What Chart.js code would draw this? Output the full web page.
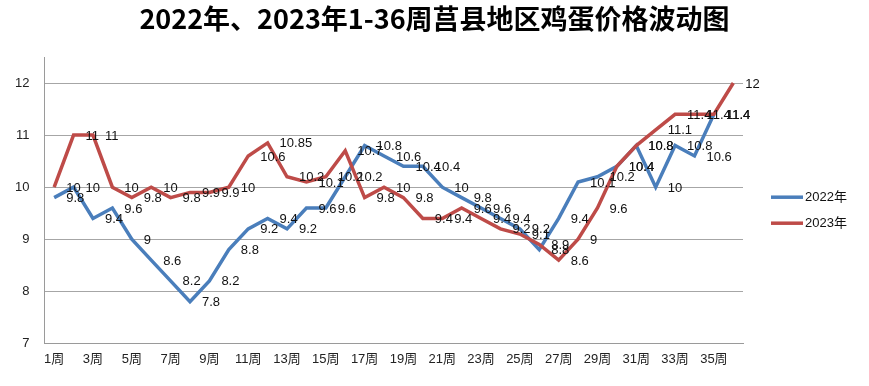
<!DOCTYPE html>
<html>
<head>
<meta charset="utf-8">
<script src="https://cdn.jsdelivr.net/npm/chart.js@4.4.0/dist/chart.umd.min.js"></script>
<style>
  html, body { margin: 0; padding: 0; background: #fff; }
  #wrap { width: 869px; height: 386px; }
</style>
</head>
<body>
<div id="wrap"><canvas id="eggChart"></canvas></div>
<script>
const weeks = Array.from({ length: 36 }, (_, i) => `${i + 1}周`);
const seriesNames = ["2022年", "2023年"];
const prices2022 = [9.8, 10, 9.4, 9.6, 9, 8.6, 8.2, 7.8, 8.2, 8.8, 9.2, 9.4, 9.2, 9.6, 9.6, 10.2, 10.8, 10.6,
  10.4, 10.4, 10, 9.8, 9.6, 9.4, 9.2, 8.8, 9.4, 10.1, 10.2, 10.4, 10.8, 10, 10.8, 10.6, 11.4, null];
const prices2023 = [10, 11, 11, 10, 9.8, 10, 9.8, 9.9, 9.9, 10, 10.6, 10.85, 10.2, 10.1, 10.2, 10.7, 9.8, 10,
  9.8, 9.4, 9.4, 9.6, 9.4, 9.2, 9.1, 8.9, 8.6, 9, 9.6, 10.4, 10.8, 11.1, 11.4, 11.4, 11.4, 12];
const yTicks = [7, 8, 9, 10, 11, 12];
const chartTitle = "2022年、2023年1-36周莒县地区鸡蛋价格波动图";

const colors = ["#4a7ebb", "#be4b48"];
const fontLatin = '"Liberation Sans", Arial, "Noto Sans CJK SC", sans-serif';

// value labels to the right of each point
const pointLabels = {
  id: "pointLabels",
  afterDatasetsDraw(chart) {
    const ctx = chart.ctx;
    ctx.save();
    ctx.font = "13px " + fontLatin;
    ctx.fillStyle = "#111";
    ctx.textBaseline = "middle";
    ctx.textAlign = "left";
    chart.data.datasets.forEach((ds, i) => {
      chart.getDatasetMeta(i).data.forEach((pt, j) => {
        const v = ds.data[j];
        if (v === null || v === undefined) return;
        ctx.fillText(String(v), pt.x + 12, pt.y + 1);
      });
    });
    ctx.restore();
  }
};

// title centred on the whole canvas + legend at the right like the excel one
const decorations = {
  id: "decorations",
  afterDraw(chart) {
    const ctx = chart.ctx;
    ctx.save();
    ctx.font = 'bold 27px "Noto Sans CJK SC", sans-serif';
    ctx.fillStyle = "#000";
    ctx.textAlign = "center";
    ctx.textBaseline = "middle";
    ctx.fillText(chartTitle, chart.width / 2, 19);

    const x = chart.chartArea.right + 28;
    const mid = (chart.chartArea.top + chart.chartArea.bottom) / 2 + 10;
    ctx.font = "13px " + fontLatin;
    ctx.textAlign = "left";
    chart.data.datasets.forEach((ds, i) => {
      const y = mid - 13 + i * 26;
      ctx.strokeStyle = ds.borderColor;
      ctx.lineWidth = 3.5;
      ctx.beginPath();
      ctx.moveTo(x, y);
      ctx.lineTo(x + 32, y);
      ctx.stroke();
      ctx.fillStyle = "#111";
      ctx.fillText(ds.label, x + 34, y);
    });
    ctx.restore();
  }
};

new Chart(document.getElementById("eggChart"), {
  type: "line",
  data: {
    labels: weeks,
    datasets: [
      { label: seriesNames[0], data: prices2022, borderColor: colors[0], backgroundColor: colors[0], borderWidth: 3.5, pointRadius: 0, tension: 0, order: 1 },
      { label: seriesNames[1], data: prices2023, borderColor: colors[1], backgroundColor: colors[1], borderWidth: 3.5, pointRadius: 0, tension: 0, order: 0 }
    ]
  },
  options: {
    responsive: true,
    maintainAspectRatio: false,
    animation: false,
    layout: { padding: { left: 0, right: 126, bottom: 11, top: 57 } },
    plugins: {
      legend: { display: false },
      tooltip: { enabled: false },
      title: { display: false }
    },
    scales: {
      x: {
        offset: true,
        grid: { display: false, drawTicks: false },
        border: { display: true, color: "#9a9a9a", width: 1 },
        ticks: {
          autoSkip: false,
          maxRotation: 0,
          padding: 8,
          color: "#222",
          font: { family: fontLatin, size: 13 },
          callback: function (val, idx) { return idx % 2 === 0 ? this.getLabelForValue(val) : ""; }
        }
      },
      y: {
        min: 7,
        max: 12.5,
        afterBuildTicks: (scale) => { scale.ticks = yTicks.map(v => ({ value: v })); },
        grid: { color: "#a6a6a6", drawTicks: false },
        border: { display: true, color: "#9a9a9a", width: 1 },
        ticks: {
          padding: 15,
          color: "#222",
          font: { family: fontLatin, size: 13 }
        }
      }
    }
  },
  plugins: [pointLabels, decorations]
});
</script>
</body>
</html>
